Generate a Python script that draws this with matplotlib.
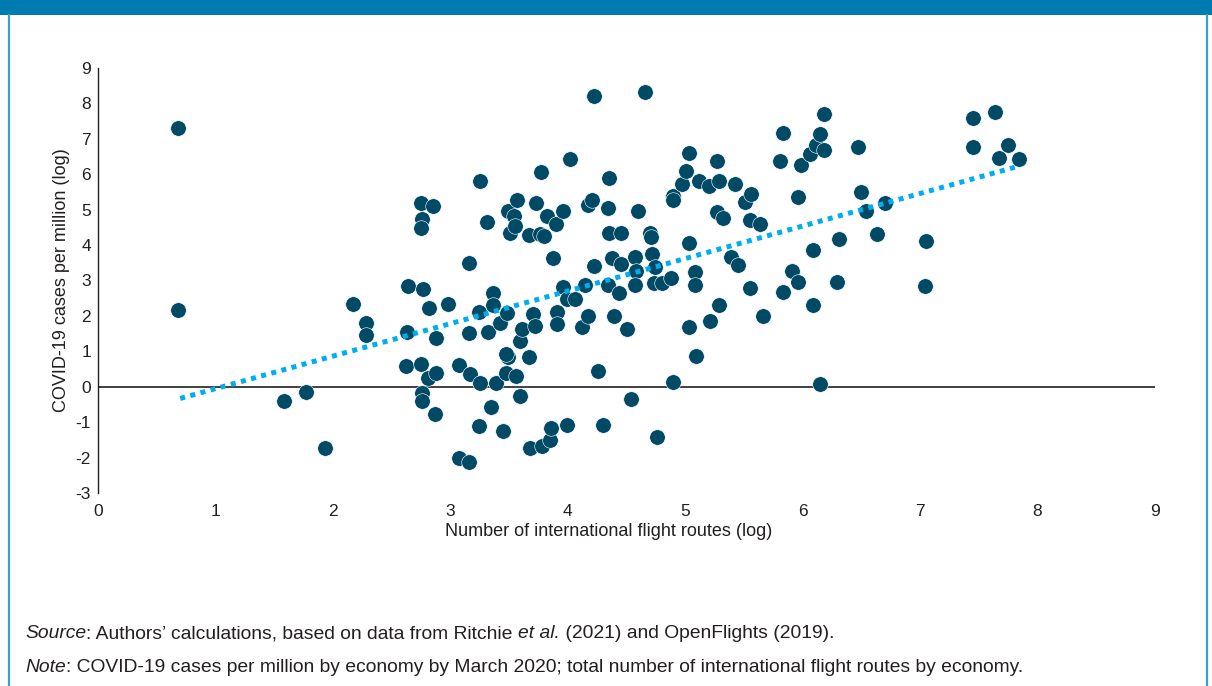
import matplotlib
matplotlib.use("Agg")
import matplotlib.pyplot as plt
from matplotlib.patches import Rectangle
from matplotlib.lines import Line2D
from matplotlib.transforms import IdentityTransform

plt.rcParams['font.family'] = ['Liberation Sans', 'DejaVu Sans']
plt.rcParams['axes.unicode_minus'] = False

# ---- data ----
flight_routes_log = [
    0.68, 0.68, 1.58, 1.77, 1.93, 2.17, 2.28, 2.28, 2.62, 2.63,
    2.64, 2.75, 2.76, 2.75, 2.77, 2.75, 2.76, 2.76, 2.81, 2.82,
    2.85, 2.88, 2.88, 2.87, 2.98, 3.07, 3.07, 3.16, 3.16, 3.17,
    3.16, 3.24, 3.24, 3.25, 3.25, 3.31, 3.32, 3.36, 3.36, 3.35,
    3.39, 3.42, 3.45, 3.47, 3.48, 3.49, 3.49, 3.51, 3.54, 3.55,
    3.57, 3.56, 3.59, 3.59, 3.61, 3.67, 3.67, 3.68, 3.70, 3.72,
    3.73, 3.76, 3.77, 3.78, 3.80, 3.82, 3.85, 3.86, 3.87, 3.90,
    3.91, 3.91, 3.96, 3.96, 3.99, 3.99, 4.02, 4.06, 4.12, 4.15,
    4.17, 4.17, 4.21, 4.22, 4.22, 4.26, 4.30, 4.34, 4.35, 4.35,
    4.34, 4.38, 4.39, 4.45, 4.45, 4.44, 4.50, 4.54, 4.57, 4.58,
    4.57, 4.60, 4.66, 4.70, 4.71, 4.72, 4.74, 4.73, 4.76, 4.80,
    4.88, 4.90, 4.90, 4.90, 4.97, 5.01, 5.03, 5.03, 5.03, 5.08,
    5.08, 5.09, 5.12, 5.20, 5.21, 5.27, 5.29, 5.27, 5.29, 5.32,
    5.39, 5.42, 5.45, 5.51, 5.56, 5.55, 5.55, 5.64, 5.66, 5.81,
    5.83, 5.83, 5.91, 5.96, 5.96, 5.99, 6.06, 6.09, 6.09, 6.11,
    6.15, 6.18, 6.18, 6.15, 6.29, 6.31, 6.47, 6.50, 6.54, 6.63,
    6.70, 7.04, 7.05, 7.45, 7.45, 7.64, 7.67, 7.75, 7.84, 3.47,
]
cases_per_million_log = [
    7.32, 2.17, -0.40, -0.14, -1.72, 2.34, 1.80, 1.47, 0.59, 1.55,
    2.85, 5.20, 4.75, 4.47, 2.77, 0.65, -0.17, -0.40, 0.25, 2.23,
    5.11, 1.38, 0.40, -0.76, 2.34, 0.62, -2.00, 3.50, 1.53, 0.37,
    -2.12, 2.12, -1.10, 5.82, 0.11, 4.66, 1.55, 2.66, 2.32, -0.56,
    0.11, 1.81, -1.24, 0.40, 2.09, 4.97, 0.85, 4.35, 4.81, 4.55,
    5.28, 0.31, -0.25, 1.28, 1.64, 0.85, 4.29, -1.72, 2.06, 1.72,
    5.20, 4.32, 6.07, -1.67, 4.27, 4.81, -1.50, -1.16, 3.64, 4.60,
    2.12, 1.78, 4.97, 2.82, 2.49, -1.07, 6.44, 2.49, 1.69, 2.88,
    5.14, 2.00, 5.28, 8.22, 3.42, 0.45, -1.07, 5.06, 5.90, 4.35,
    2.88, 3.64, 2.00, 4.35, 3.47, 2.65, 1.63, -0.34, 3.67, 3.28,
    2.88, 4.97, 8.31, 4.35, 4.24, 3.76, 3.39, 2.94, -1.41, 2.94,
    3.08, 5.40, 5.28, 0.14, 5.73, 6.10, 6.61, 4.07, 1.70, 3.25,
    2.88, 0.88, 5.82, 5.68, 1.86, 6.38, 5.82, 4.94, 2.31, 4.77,
    3.67, 5.73, 3.45, 5.22, 5.45, 4.72, 2.80, 4.60, 2.00, 6.38,
    7.17, 2.68, 3.28, 5.37, 2.95, 6.27, 6.58, 3.87, 2.32, 6.84,
    7.14, 6.69, 7.71, 0.09, 2.97, 4.18, 6.78, 5.51, 4.97, 4.32,
    5.20, 2.85, 4.12, 7.60, 6.78, 7.77, 6.47, 6.84, 6.44, 0.92,
]
trend_x = [0.70, 7.82]
trend_y = [-0.33, 6.21]

x_ticks = list(range(0, 10))
y_ticks = list(range(-3, 10))

x_label = "Number of international flight routes (log)"
y_label = "COVID-19 cases per million (log)"

source_segments = [("Source", "italic"),
                   (": Authors\u2019 calculations, based on data from Ritchie ", "normal"),
                   ("et al.", "italic"),
                   (" (2021) and OpenFlights (2019).", "normal")]
note_segments = [("Note", "italic"),
                 (": COVID-19 cases per million by economy by March 2020; total number of "
                  "international flight routes by economy.", "normal")]

# ---- style ----
W, H = 1212, 686
TEXT = '#231f20'
DOT = '#004a66'
TREND = '#00aeef'
HEADER = '#007bb1'
BORDER = '#3b9fd1'

fig = plt.figure(figsize=(W / 100, H / 100), dpi=100)
fig.patch.set_facecolor('white')

# header bar and frame lines
fig.patches.append(Rectangle((0, 1 - 15 / H), 1, 15 / H, transform=fig.transFigure,
                             facecolor=HEADER, edgecolor='none', zorder=0))
fig.lines.append(Line2D([9 / W, 9 / W], [0, 1 - 15 / H], transform=fig.transFigure,
                        color=BORDER, lw=1.6))
fig.lines.append(Line2D([1207 / W, 1207 / W], [0, 1 - 15 / H], transform=fig.transFigure,
                        color=BORDER, lw=1.6))

ax_left, ax_right = 98 / W, 1155 / W
ax_top, ax_bottom = 1 - 68 / H, 1 - 493 / H
ax = fig.add_axes([ax_left, ax_bottom, ax_right - ax_left, ax_top - ax_bottom])

ax.scatter(flight_routes_log, cases_per_million_log, s=125, color=DOT,
           edgecolors='white', linewidths=0.4, zorder=3, clip_on=False)
ax.plot(trend_x, trend_y, color=TREND, lw=3.6, linestyle=(0, (1, 1.1)),
        solid_capstyle='butt', dash_capstyle='butt', zorder=4)
ax.axhline(0, color=TEXT, lw=1.2, zorder=2)

ax.set_xlim(0, 9)
ax.set_ylim(-3, 9)
ax.set_xticks(x_ticks)
ax.set_yticks(y_ticks)
ax.tick_params(axis='both', length=0, labelsize=12.5, colors=TEXT)
ax.tick_params(axis='y', pad=5)
ax.tick_params(axis='x', pad=8)
for side in ['top', 'right', 'bottom']:
    ax.spines[side].set_visible(False)
ax.spines['left'].set_color(TEXT)
ax.spines['left'].set_linewidth(1.0)

ax.set_xlabel(x_label, fontsize=13, color=TEXT)
ax.set_ylabel(y_label, fontsize=13, color=TEXT)
ax.xaxis.set_label_coords((609 - 98) / 1057, (493 - 532) / 425)
ax.yaxis.set_label_coords((62 - 98) / 1057, 0.5)
ax.xaxis.label.set_verticalalignment('center')
ax.yaxis.label.set_verticalalignment('center')


def draw_segments(x_px, y_px, segments, size):
    renderer = fig.canvas.get_renderer()
    x = x_px
    for txt, style in segments:
        t = fig.text(x, y_px, txt, transform=IdentityTransform(), fontsize=size,
                     fontstyle=style, color=TEXT, va='center', ha='left')
        bb = t.get_window_extent(renderer=renderer)
        x += bb.width


draw_segments(25, H - 634, source_segments, 13.9)
draw_segments(25, H - 667, note_segments, 13.9)

fig.savefig('out.png', dpi=100, facecolor='white')
